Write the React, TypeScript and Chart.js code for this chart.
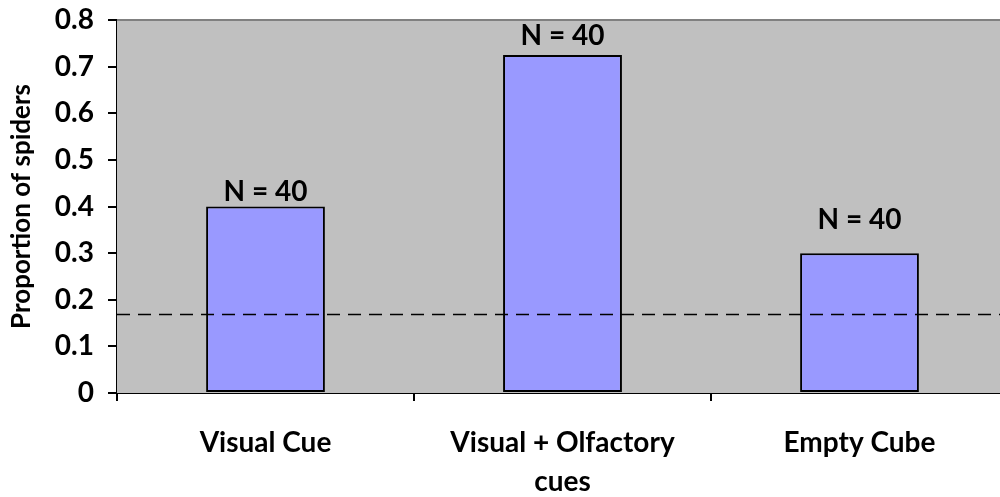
import React, { useEffect, useRef } from "react";
import { Chart, registerables } from "chart.js";

Chart.register(...registerables);

const categories: (string | string[])[] = ["Visual Cue", ["Visual + Olfactory", "cues"], "Empty Cube"];
const proportions = [0.4, 0.725, 0.3];
const sampleLabels = ["N = 40", "N = 40", "N = 40"];
const sampleLabelPositions = [0.431, 0.765, 0.371];
const chanceLevel = 0.169;
const yTicks = [0, 0.1, 0.2, 0.3, 0.4, 0.5, 0.6, 0.7, 0.8];

const FONT = "Lato";

const plotPlugin = {
  id: "plotDecor",
  beforeDatasetsDraw(chart: any) {
    const { ctx, chartArea } = chart;
    ctx.save();
    ctx.fillStyle = "#C0C0C0";
    ctx.fillRect(chartArea.left, chartArea.top, chartArea.right - chartArea.left, chartArea.bottom - chartArea.top);
    ctx.strokeStyle = "#808080";
    ctx.lineWidth = 2;
    ctx.beginPath();
    ctx.moveTo(chartArea.left, chartArea.top);
    ctx.lineTo(chartArea.right, chartArea.top);
    ctx.stroke();
    ctx.restore();
  },
  afterDatasetsDraw(chart: any) {
    const { ctx, chartArea, scales } = chart;
    const y = scales.y;
    ctx.save();
    const yy = Math.round(y.getPixelForValue(chanceLevel)) + 0.5;
    ctx.strokeStyle = "#000";
    ctx.lineWidth = 1.5;
    ctx.setLineDash([13, 8]);
    ctx.beginPath();
    ctx.moveTo(chartArea.left, yy);
    ctx.lineTo(chartArea.right, yy);
    ctx.stroke();
    ctx.setLineDash([]);
    const meta = chart.getDatasetMeta(0);
    ctx.fillStyle = "#000";
    ctx.font = `bold 28px ${FONT}`;
    ctx.textAlign = "center";
    ctx.textBaseline = "middle";
    meta.data.forEach((bar: any, i: number) => {
      ctx.fillText(sampleLabels[i], bar.x, y.getPixelForValue(sampleLabelPositions[i]));
    });
    ctx.restore();
  },
};

export default function App() {
  const ref = useRef<HTMLCanvasElement>(null);
  useEffect(() => {
    if (!ref.current) return;
    const chart = new Chart(ref.current, {
      type: "bar",
      data: {
        labels: categories,
        datasets: [
          {
            data: proportions,
            backgroundColor: "#9999FF",
            borderColor: "#000000",
            borderWidth: 2,
            borderSkipped: false,
            barPercentage: 0.4,
            categoryPercentage: 1,
          },
        ],
      },
      options: {
        animation: false,
        responsive: true,
        maintainAspectRatio: false,
        layout: { padding: { top: 20, right: 2, left: 0, bottom: 0 } },
        plugins: { legend: { display: false }, tooltip: { enabled: false } },
        scales: {
          x: {
            offset: true,
            grid: { display: true, drawOnChartArea: false, drawTicks: true, tickLength: 8, color: "#000", lineWidth: 2, offset: true },
            border: { display: true, color: "#000", width: 2 },
            ticks: { color: "#000", font: { family: FONT, size: 28, weight: "bold", lineHeight: 1.4 }, padding: 22, maxRotation: 0, autoSkip: false },
            afterFit(scale: any) {
              scale.height = 104;
              scale.paddingLeft = 0;
              scale.paddingRight = 0;
            },
          },
          y: {
            min: 0,
            max: 0.8,
            afterBuildTicks(scale: any) {
              scale.ticks = yTicks.map((v) => ({ value: v }));
            },
            grid: { display: true, drawOnChartArea: false, drawTicks: true, tickLength: 9, color: "#000", lineWidth: 2 },
            border: { display: true, color: "#000", width: 2 },
            ticks: {
              color: "#000",
              font: { family: FONT, size: 28, weight: "bold" },
              padding: 14,
              callback: (v: any) => (v === 0 ? "0" : Number(v).toFixed(1)),
            },
            title: {
              display: true,
              text: "Proportion of spiders",
              color: "#000",
              font: { family: FONT, size: 26, weight: "bold" },
              padding: { top: 6, bottom: 0 },
            },
            afterFit(scale: any) {
              scale.width = 117;
              scale.paddingTop = 0;
              scale.paddingBottom = 0;
            },
          },
        },
      },
      plugins: [plotPlugin],
    });
    return () => chart.destroy();
  }, []);
  return (
    <div style={{ position: "fixed", left: 0, top: 0, width: 1000, height: 497, overflow: "hidden", background: "#fff" }}>
      <div style={{ position: "relative", width: 1010, height: 497 }}>
        <canvas ref={ref} />
      </div>
    </div>
  );
}
